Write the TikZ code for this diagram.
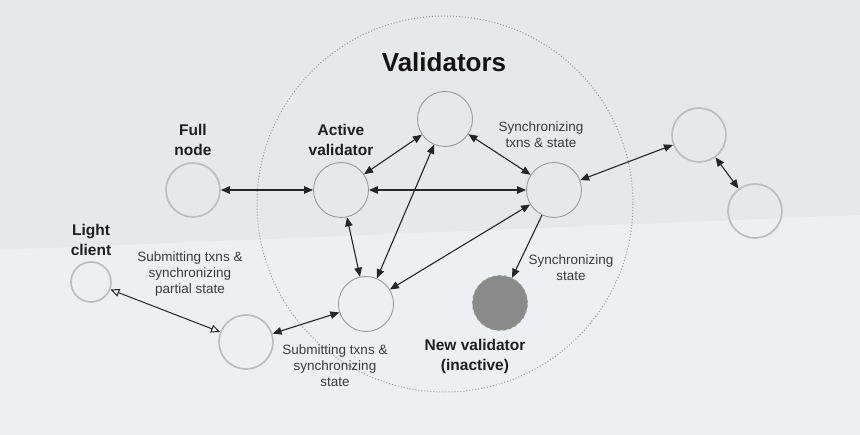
\documentclass[tikz,border=0pt]{standalone}
\usepackage{fontspec}
\setmainfont{Liberation Sans}
\usetikzlibrary{arrows.meta}

\definecolor{bgcol}{HTML}{E7E8EA}
\definecolor{bgpale}{HTML}{EDEFF3}
\definecolor{linecol}{HTML}{262626}
\definecolor{txtcol}{HTML}{3C3C3C}
\definecolor{ringcol}{HTML}{9A9A9A}
\definecolor{peercol}{HTML}{BEBEBE}
\definecolor{newcol}{HTML}{8A8A8A}

\tikzset{
  validator/.style = {circle, draw = ringcol, line width = .9pt,
                      minimum size = 55pt, inner sep = 0pt},
  peer/.style      = {circle, draw = peercol, line width = 1.7pt,
                      minimum size = 54pt, inner sep = 0pt},
  newnode/.style   = {validator, fill = newcol, draw = ringcol, dashed},
  title/.style     = {font = \bfseries\fontsize{26}{30}\selectfont, text = black!92},
  role/.style      = {align = center, inner sep = 0pt, text = black!88,
                      font = \bfseries\fontsize{15.5}{20}\selectfont},
  note/.style      = {align = center, inner sep = 0pt, text = txtcol,
                      font = \fontsize{13.5}{16}\selectfont},
  link/.style      = {{Triangle[length=9pt,width=7.5pt]}-{Triangle[length=9pt,width=7.5pt]},
                      draw = linecol, line width = 1.1pt},
  oneway/.style    = {-{Triangle[length=9pt,width=7.5pt]}, draw = linecol, line width = 1.1pt},
  openlink/.style  = {{Triangle[open,length=9pt,width=8pt]}-{Triangle[open,length=9pt,width=8pt]},
                      draw = linecol, line width = 1pt}
}

\begin{document}
\begin{tikzpicture}[x = 1pt, y = -1pt]
  \useasboundingbox (0,0) rectangle (860,435);
  \fill [bgcol] (0,0) rectangle (860,435);
  \fill [bgpale] (0,250) -- (860,215) -- (860,435) -- (0,435) -- cycle;

  % validator set
  \draw [ringcol, line width = 1pt, dotted] (445,204) circle (188);
  \node [title] (valtitle) at (444,62) {Validators};

  \node [validator] (active) at (341,190) {};
  \node [validator] (top)    at (445,119) {};
  \node [validator] (sync)   at (554,190) {};
  \node [validator] (bottom) at (366,304) {};
  \node [newnode]   (new)    at (500,303) {};

  % outside peers
  \node [peer] (full)   at (193,190) {};
  \node [peer] (client) at (246,342) {};
  \node [peer] (far1)   at (699,135) {};
  \node [peer] (far2)   at (755,211) {};
  \node [peer, minimum size = 40pt] (light) at (91,282) {};

  % texts
  \node [role] (fulltxt)   at (193,140) {Full\\node};
  \node [role] (activetxt) at (341,140) {Active\\validator};
  \node [role] (lighttxt)  at (91,240)  {Light\\client};
  \node [role] (newtxt)    at (475,356) {New validator\\(inactive)};

  \node [note] (synctxt)    at (541,135) {Synchronizing\\txns \& state};
  \node [note] (partialtxt) at (190,274) {Submitting txns \&\\synchronizing\\partial state};
  \node [note] (submittxt)  at (335,366) {Submitting txns \&\\synchronizing\\state};
  \node [note] (statetxt)   at (571,268) {Synchronizing\\state};

  % connections
  \foreach \a/\b in {full/active, active/top, active/sync, top/sync, top/bottom,
                     active/bottom, sync/bottom, sync/far1, far1/far2, client/bottom}
    \draw [link] (\a) -- (\b);
  \draw [oneway] (sync) -- (new);
  \draw [openlink] (light) -- (client);
\end{tikzpicture}
\end{document}
